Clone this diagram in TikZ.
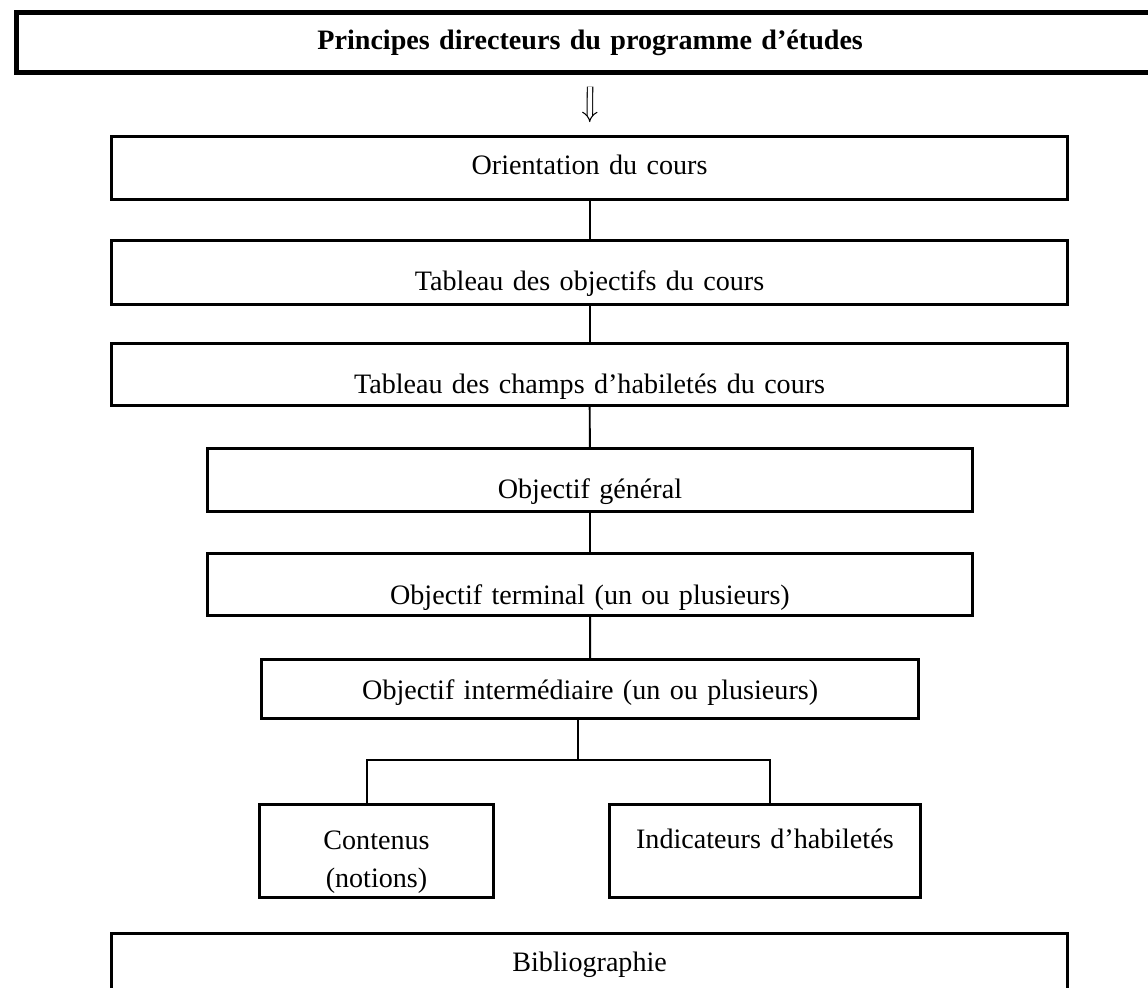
\documentclass[tikz,border=0pt]{standalone}
\usepackage{fontspec}
\setmainfont{Liberation Serif}
\usetikzlibrary{arrows.meta}
\newdimen\pxu \pxu=0.5669pt
\tikzset{
  boite/.style={draw, line width=1.7pt, anchor=north west, inner xsep=0pt,
    inner ysep=0pt, align=center, font=\fontsize{16}{22}\selectfont},
  lien/.style={line width=1.1pt},
}
\begin{document}
\begin{tikzpicture}[x=0.02cm, y=-0.02cm]
  \useasboundingbox (0,0) rectangle (1148,987);
  \node[boite, line width=2.8pt, text width=1152\pxu, text height=37\pxu, text depth=23\pxu]
    (principes) at (14,10) {\bfseries Principes directeurs du programme d’études};
  \node[boite, text width=960\pxu, text height=38\pxu, text depth=25\pxu]
    (orientation) at (110,135) {Orientation du cours};
  \node[boite, text width=960\pxu, text height=50\pxu, text depth=14\pxu]
    (objectifs) at (110,239) {Tableau des objectifs du cours};
  \node[boite, text width=960\pxu, text height=50\pxu, text depth=12\pxu]
    (champs) at (110,342) {Tableau des champs d’habiletés du cours};
  \node[boite, text width=768\pxu, text height=50\pxu, text depth=13\pxu]
    (general) at (206,447) {Objectif général};
  \node[boite, text width=768\pxu, text height=51\pxu, text depth=11\pxu]
    (terminal) at (206,552) {Objectif terminal (un ou plusieurs)};
  \node[boite, text width=660\pxu, text height=40\pxu, text depth=19\pxu]
    (intermediaire) at (260,658) {Objectif intermédiaire (un ou plusieurs)};
  \node[boite, text width=235\pxu, text height=45\pxu, text depth=48\pxu]
    (contenus) at (258,803) {Contenus\\(notions)};
  \node[boite, text width=312\pxu, text height=44\pxu, text depth=49\pxu]
    (indicateurs) at (608,803) {Indicateurs d’habiletés};
  \node[boite, text width=960\pxu, text height=38\pxu, text depth=40\pxu]
    (bibliographie) at (110,932) {Bibliographie};
  \coordinate (fourche) at (578,760);
  \coordinate (gauche) at (367,760);
  \coordinate (droite) at (770,760);
  % liens
  \draw[double, double distance=2.5pt, line width=0.6pt, -{Implies},
    shorten <=12\pxu, shorten >=13\pxu] (principes.south) -- (orientation.north);
  \draw[lien] (orientation) -- (objectifs);
  \draw[lien] (objectifs) -- (champs);
  \draw[lien] (champs) -- (general);
  \draw[lien] (general) -- (terminal);
  \draw[lien] (terminal) -- (intermediaire);
  \draw[lien] (fourche |- intermediaire.south) -- (fourche);
  \draw[lien] (contenus.north -| gauche) -- (gauche) -- (droite) -- (indicateurs.north -| droite);
\end{tikzpicture}
\end{document}
